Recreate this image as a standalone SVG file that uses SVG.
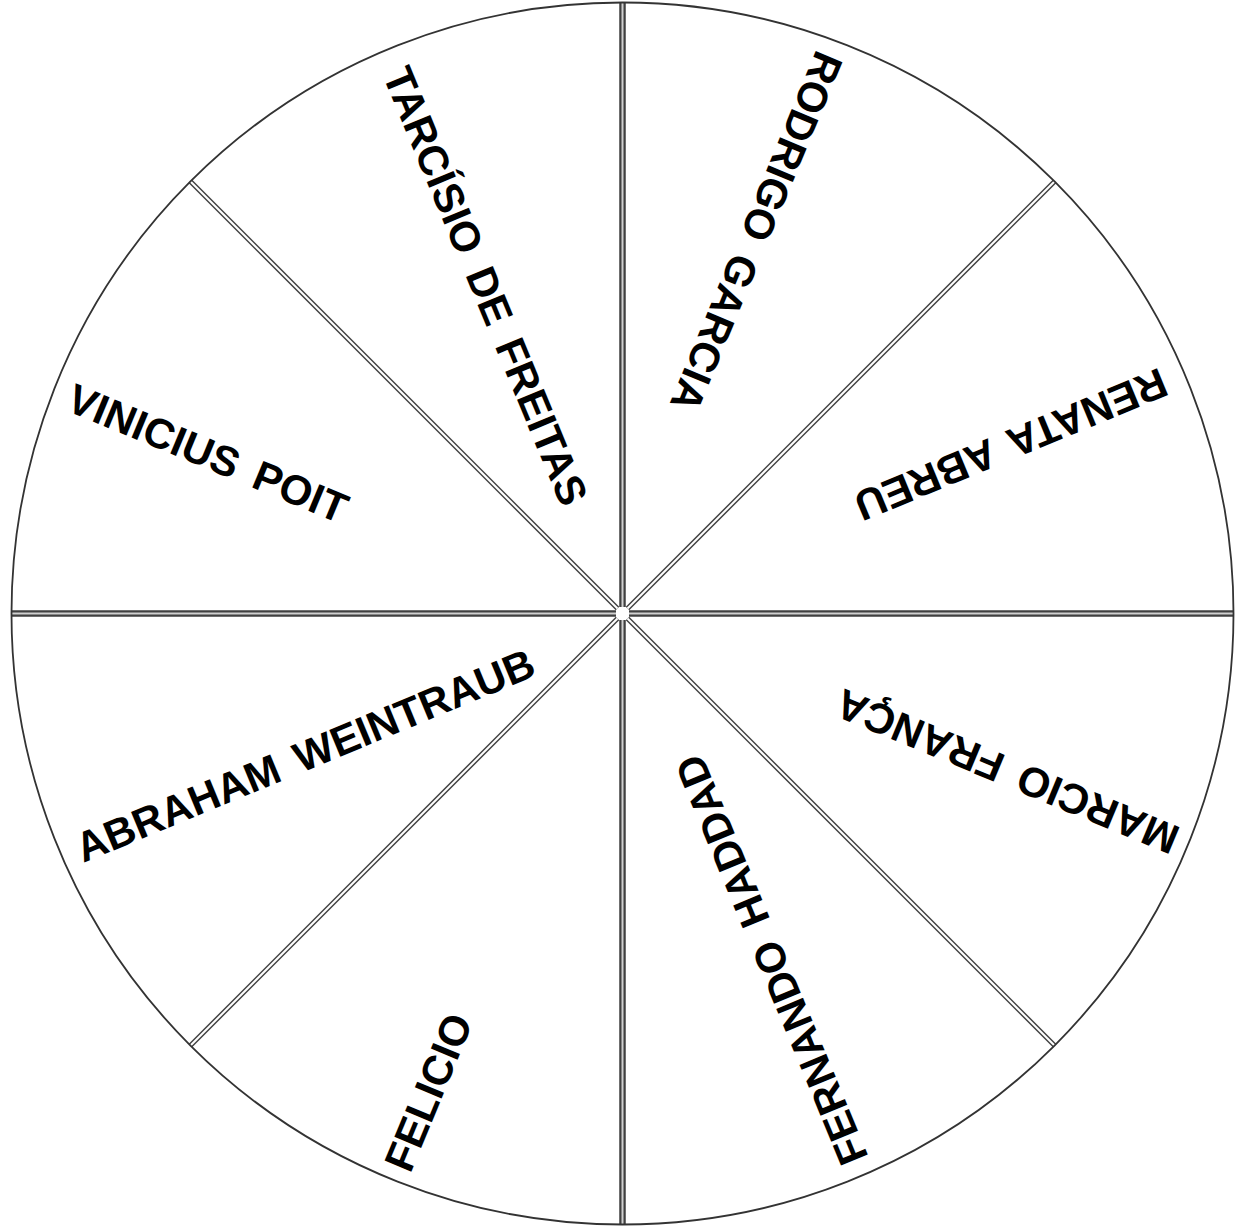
<svg xmlns="http://www.w3.org/2000/svg" width="1235" height="1232" viewBox="0 0 1235 1232">
<style>
.sector{fill:#ffffff;stroke:none}
.lbl{font-family:"Liberation Sans",Arial,sans-serif;font-weight:bold;font-size:42px;fill:#000;text-anchor:middle;word-spacing:7px}
.dOut{stroke:#404040;stroke-width:6.5;fill:none}
.dIn{stroke:#d0d0d0;stroke-width:2;fill:none}
.gOut{stroke:#454545;stroke-width:5;fill:none}
.gIn{stroke:#ffffff;stroke-width:2;fill:none}
.rim{fill:none;stroke:#333;stroke-width:1.8}
</style>
<rect width="1235" height="1232" fill="#fff"/>
<g id="s-rodrigo"><path class="sector" d="M622.5 613.5 L622.5 2.5 A611 611 0 0 1 1054.5 181.5 Z"/><text class="lbl" transform="translate(757 232) rotate(112.5)" x="0" y="15">RODRIGO GARCIA</text></g>
<g id="s-renata"><path class="sector" d="M622.5 613.5 L1054.5 181.5 A611 611 0 0 1 1233.5 613.5 Z"/><text class="lbl" transform="translate(1011 445) rotate(157.5)" x="0" y="15">RENATA ABREU</text></g>
<g id="s-marcio"><path class="sector" d="M622.5 613.5 L1233.5 613.5 A611 611 0 0 1 1054.5 1045.5 Z"/><text class="lbl" transform="translate(1007 772) rotate(-157.5)" x="0" y="15">MARCIO FRANÇA</text></g>
<g id="s-fernando"><path class="sector" d="M622.5 613.5 L1054.5 1045.5 A611 611 0 0 1 622.5 1224.5 Z"/><text class="lbl" transform="translate(771 960) rotate(-112.5)" x="0" y="15">FERNANDO HADDAD</text></g>
<g id="s-felicio"><path class="sector" d="M622.5 613.5 L622.5 1224.5 A611 611 0 0 1 190.5 1045.5 Z"/><text class="lbl" transform="translate(428 1092) rotate(-67.5)" x="0" y="15">FELICIO</text></g>
<g id="s-abraham"><path class="sector" d="M622.5 613.5 L190.5 1045.5 A611 611 0 0 1 11.5 613.5 Z"/><text class="lbl" transform="translate(305 755) rotate(-22.5)" x="0" y="15">ABRAHAM WEINTRAUB</text></g>
<g id="s-vinicius"><path class="sector" d="M622.5 613.5 L11.5 613.5 A611 611 0 0 1 190.5 181.5 Z"/><text class="lbl" transform="translate(208 453) rotate(22.5)" x="0" y="15">VINICIUS POIT</text></g>
<g id="s-tarcisio"><path class="sector" d="M622.5 613.5 L190.5 181.5 A611 611 0 0 1 622.5 2.5 Z"/><text class="lbl" transform="translate(486 286) rotate(67.5)" x="0" y="15">TARCÍSIO DE FREITAS</text></g>
<g id="connectors">
<path class="dOut" d="M622.5 2.5 V607 M622.5 620 V1224.5 M11.5 613.5 H616 M629 613.5 H1233.5"/>
<path class="dIn" d="M622.5 2.5 V607 M622.5 620 V1224.5 M11.5 613.5 H616 M629 613.5 H1233.5"/>
<path class="gOut" d="M617.5 608.5 L190.5 181.5 M627.5 608.5 L1054.5 181.5 M627.5 618.5 L1054.5 1045.5 M617.5 618.5 L190.5 1045.5"/>
<path class="gIn" d="M617.5 608.5 L190.5 181.5 M627.5 608.5 L1054.5 181.5 M627.5 618.5 L1054.5 1045.5 M617.5 618.5 L190.5 1045.5"/>
</g>
<circle id="rim" class="rim" cx="622.5" cy="613.5" r="611"/>
</svg>
